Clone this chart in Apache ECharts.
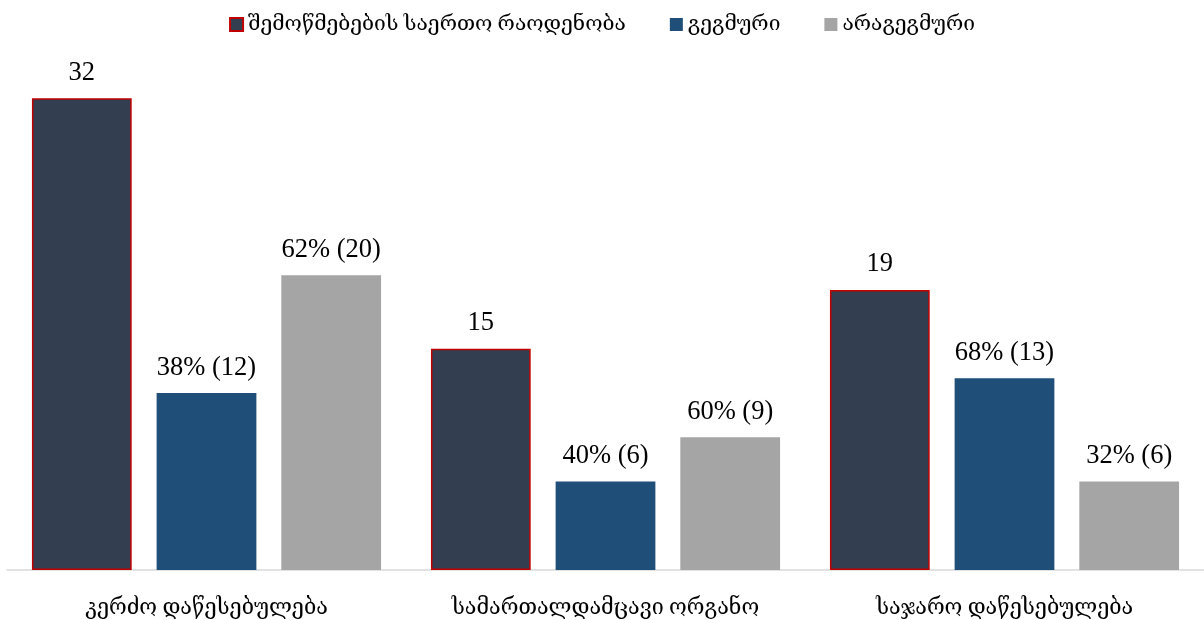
<!DOCTYPE html>
<html><head><meta charset="utf-8">
<script src="https://cdn.jsdelivr.net/npm/echarts@6/dist/echarts.min.js"></script>
<style>html,body{margin:0;padding:0;background:#fff}#c{width:1204px;height:620px}</style>
</head><body><div id="c"></div>
<script>
const categories = ['კერძო დაწესებულება', 'სამართალდამცავი ორგანო', 'საჯარო დაწესებულება'];
const seriesNames = ['შემოწმებების საერთო რაოდენობა', 'გეგმური', 'არაგეგმური'];
const totalValues = [32, 15, 19];
const plannedValues = [12, 6, 13];
const plannedPercents = [38, 40, 68];
const unplannedValues = [20, 9, 6];
const unplannedPercents = [62, 60, 32];

const FONT = '"Liberation Serif", "DejaVu Serif", serif';
const labelBase = { show: true, position: 'top', distance: 12, color: '#000', fontFamily: FONT, fontSize: 26.5 };

const chart = echarts.init(document.getElementById('c'), null, { renderer: 'canvas' });
chart.setOption({
  animation: false,
  legend: {
    top: 9, left: 'center', itemWidth: 13, itemHeight: 13, itemGap: 44, icon: 'rect',
    textStyle: { fontFamily: FONT, fontSize: 21, color: '#000' },
    data: seriesNames
  },
  grid: { left: 7, right: 0, top: 54, bottom: 50 },
  xAxis: {
    type: 'category', data: categories,
    axisLine: { lineStyle: { color: '#d9d9d9', width: 1.5 } },
    axisTick: { show: false },
    axisLabel: { interval: 0, hideOverlap: false, fontFamily: FONT, fontSize: 21.5, color: '#000', margin: 27 }
  },
  yAxis: { type: 'value', min: 0, max: 35, show: false, splitLine: { show: false } },
  series: [
    { name: seriesNames[0], type: 'bar', data: totalValues, barWidth: '25%', barGap: '25%',
      itemStyle: { color: '#333f50', borderColor: '#c00000', borderWidth: 1.5 },
      label: labelBase },
    { name: seriesNames[1], type: 'bar', data: plannedValues, barWidth: '25%', barGap: '25%',
      itemStyle: { color: '#1f4e79' },
      label: Object.assign({}, labelBase, { formatter: p => plannedPercents[p.dataIndex] + '% (' + p.value + ')' }) },
    { name: seriesNames[2], type: 'bar', data: unplannedValues, barWidth: '25%', barGap: '25%',
      itemStyle: { color: '#a5a5a5' },
      label: Object.assign({}, labelBase, { formatter: p => unplannedPercents[p.dataIndex] + '% (' + p.value + ')' }) }
  ]
});
</script></body></html>
